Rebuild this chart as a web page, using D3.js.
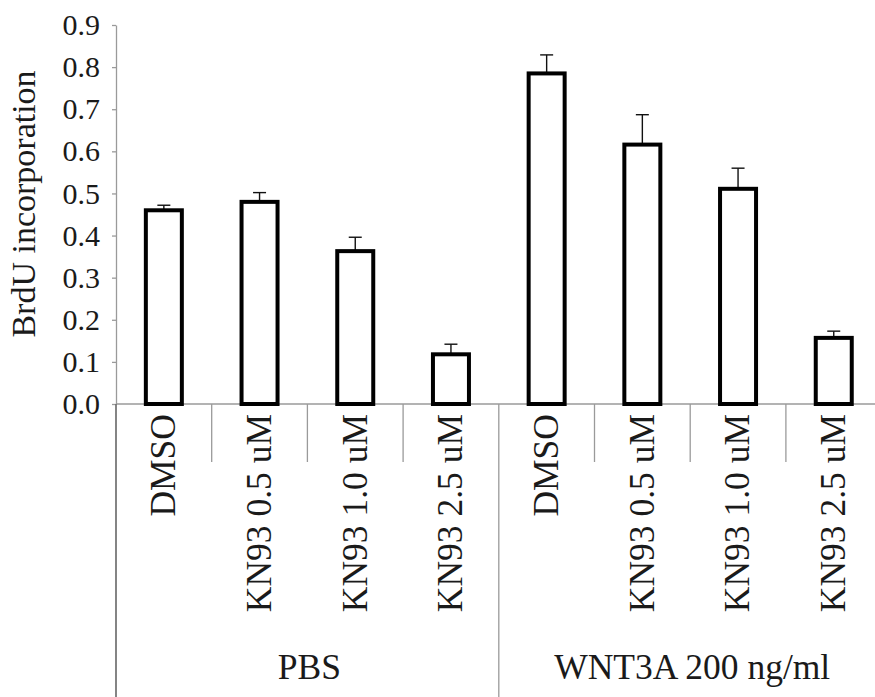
<!DOCTYPE html>
<html>
<head>
<meta charset="utf-8">
<script src="https://cdn.jsdelivr.net/npm/d3@7"></script>
<style>
  body { margin: 0; background: #fff; }
  svg { display: block; }
  svg text { font-family: "Liberation Serif", Tinos, "Times New Roman", Times, "DejaVu Serif", serif; }
</style>
</head>
<body>
<div id="chart"></div>
<script>
// chart values
const groups = ["PBS", "WNT3A 200 ng/ml"];
const treatments = ["DMSO", "KN93 0.5 uM", "KN93 1.0 uM", "KN93 2.5 uM"];
const pbsValues = [0.46, 0.48, 0.363, 0.118];
const pbsErrors = [0.012, 0.022, 0.033, 0.024];
const wntValues = [0.785, 0.616, 0.511, 0.157];
const wntErrors = [0.044, 0.071, 0.049, 0.016];
const yTicks = [0, 0.1, 0.2, 0.3, 0.4, 0.5, 0.6, 0.7, 0.8, 0.9];

// one row per bar
const rows = [];
groups.forEach((g, gi) => {
    const vals = gi === 0 ? pbsValues : wntValues;
    const errs = gi === 0 ? pbsErrors : wntErrors;
    treatments.forEach((t, i) => {
        rows.push({ key: g + "|" + t, group: g, label: t, value: vals[i], err: errs[i] });
    });
});

const width = 875, height = 697;
const left = 116, axisY = 404, topY = 25;
const bandW = 95.7;
const axisColor = "#9a9a9a";
const textColor = "#1a1a1a";

const svg = d3.select("#chart").append("svg")
    .attr("width", width)
    .attr("height", height);

const x = d3.scaleBand()
    .domain(rows.map(d => d.key))
    .range([left, left + bandW * rows.length])
    .padding(0);

const y = d3.scaleLinear()
    .domain([0, 0.9])
    .range([axisY, topY]);

// y axis
const yAxis = svg.append("g")
    .attr("transform", `translate(${left},0)`)
    .call(d3.axisLeft(y).tickValues(yTicks).tickFormat(d3.format(".1f"))
        .tickSize(4).tickSizeOuter(0).tickPadding(12));
yAxis.attr("font-family", null).attr("font-size", null);
yAxis.select(".domain").attr("stroke", axisColor).attr("stroke-width", 1.3);
yAxis.selectAll(".tick line").attr("stroke", axisColor).attr("stroke-width", 1.3);
yAxis.selectAll(".tick text")
    .attr("fill", textColor)
    .style("font-size", "30px");

// x axis baseline
svg.append("line")
    .attr("x1", left).attr("x2", width)
    .attr("y1", axisY).attr("y2", axisY)
    .attr("stroke", axisColor).attr("stroke-width", 1.3);

// category separators: short inside a group, long between groups
d3.range(0, rows.length + 1).forEach(i => {
    const xx = i < rows.length ? x(rows[i].key) : x.range()[1];
    const long = i % treatments.length === 0;
    svg.append("line")
        .attr("x1", xx).attr("x2", xx)
        .attr("y1", axisY).attr("y2", long ? height : 462)
        .attr("stroke", axisColor).attr("stroke-width", 1.3);
});

// y axis continues down through the group labels
svg.append("line")
    .attr("x1", left).attr("x2", left)
    .attr("y1", axisY).attr("y2", height)
    .attr("stroke", "#666").attr("stroke-width", 1.3);

const barW = 36;

// error bars (upper only)
const capW = 13;
const eb = svg.append("g").attr("stroke", "#111").attr("stroke-width", 1.4);
rows.forEach(d => {
    const cx = x(d.key) + x.bandwidth() / 2;
    eb.append("line")
        .attr("x1", cx).attr("x2", cx)
        .attr("y1", y(d.value)).attr("y2", y(d.value + d.err));
    eb.append("line")
        .attr("x1", cx - capW / 2).attr("x2", cx + capW / 2)
        .attr("y1", y(d.value + d.err)).attr("y2", y(d.value + d.err));
});

// bars
svg.append("g").selectAll("rect")
    .data(rows)
    .join("rect")
    .attr("x", d => x(d.key) + (x.bandwidth() - barW) / 2)
    .attr("y", d => y(d.value))
    .attr("width", barW)
    .attr("height", d => y(0) - y(d.value))
    .attr("fill", "#fff")
    .attr("stroke", "#000")
    .attr("stroke-width", 4);

// treatment labels, rotated
svg.append("g").selectAll("text")
    .data(rows)
    .join("text")
    .attr("transform", d => `translate(${x(d.key) + x.bandwidth() / 2 - 1},414) rotate(-90)`)
    .attr("dy", "0.35em")
    .attr("text-anchor", "end")
    .attr("fill", textColor)
    .style("font-size", "35.5px")
    .text(d => d.label);

// group labels
groups.forEach(g => {
    const inG = rows.filter(d => d.group === g);
    const x0 = x(inG[0].key), x1 = x(inG[inG.length - 1].key) + x.bandwidth();
    svg.append("text")
        .attr("x", (x0 + x1) / 2 + 2)
        .attr("y", 679)
        .attr("text-anchor", "middle")
        .attr("fill", textColor)
        .style("font-size", "35.5px")
        .text(g);
});

// y title
svg.append("text")
    .attr("transform", "translate(35,204) rotate(-90)")
    .attr("text-anchor", "middle")
    .attr("fill", textColor)
    .style("font-size", "34px")
    .text("BrdU incorporation");
</script>
</body>
</html>
